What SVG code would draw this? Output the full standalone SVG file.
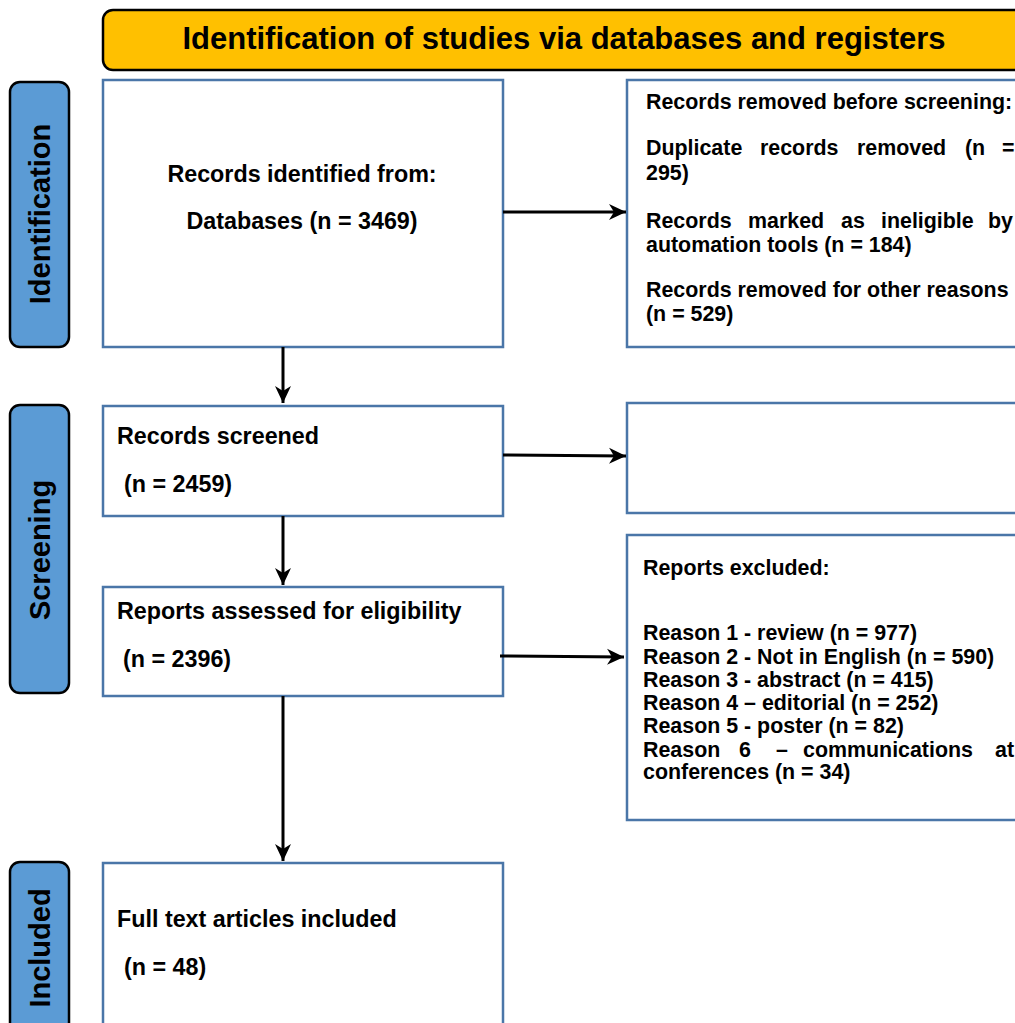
<svg xmlns="http://www.w3.org/2000/svg" width="1015" height="1023" viewBox="0 0 1015 1023">
<style>
  text { font-family: "Liberation Sans", Arial, sans-serif; font-weight: bold; fill: #000; }
  .hdr { fill: #FFC000; stroke: #000; stroke-width: 2.5; }
  .side { fill: #5B9BD5; stroke: #000; stroke-width: 2.5; }
  .box { fill: #fff; stroke: #4A76A8; stroke-width: 2.5; }
  .conn { stroke: #000; stroke-width: 3; fill: none; marker-end: url(#ah); }
  .t30 { font-size: 31px; }
  .t29 { font-size: 29px; }
  .t23 { font-size: 23.3px; }
  .t21 { font-size: 21.4px; }
</style>
<defs>
  <marker id="ah" markerUnits="userSpaceOnUse" markerWidth="20" markerHeight="20" refX="17" refY="8.5" orient="auto">
    <path d="M0,0.5 L17,8.5 L0,16.5 L5,8.5 z" fill="#000"/>
  </marker>
</defs>
<rect width="1015" height="1023" fill="#fff"/>

<g id="header">
  <rect class="hdr" x="103" y="10" width="960" height="60" rx="10"/>
  <text class="t30" x="564" y="49" text-anchor="middle">Identification of studies via databases and registers</text>
</g>

<g id="side-identification">
  <rect class="side" x="10" y="82" width="59" height="265" rx="10"/>
  <text class="t29" transform="translate(50,214) rotate(-90)" text-anchor="middle">Identification</text>
</g>
<g id="side-screening">
  <rect class="side" x="10" y="405" width="59" height="288" rx="10"/>
  <text class="t29" transform="translate(50,550) rotate(-90)" text-anchor="middle">Screening</text>
</g>
<g id="side-included">
  <rect class="side" x="10" y="862" width="59" height="200" rx="10"/>
  <text class="t29" transform="translate(50,948) rotate(-90)" text-anchor="middle">Included</text>
</g>

<g id="records-identified">
  <rect class="box" x="103" y="80" width="400" height="267"/>
  <text class="t23" x="302" y="182" text-anchor="middle">Records identified from:</text>
  <text class="t23" x="302" y="229" text-anchor="middle">Databases (n = 3469)</text>
</g>

<g id="records-removed">
  <rect class="box" x="627" y="80" width="450" height="267"/>
  <text class="t21" x="646" y="109">Records removed before screening:</text>
  <text class="t21" y="155"><tspan x="646">Duplicate</tspan><tspan x="760">records</tspan><tspan x="857">removed</tspan><tspan x="965">(n</tspan><tspan x="1002">=</tspan></text>
  <text class="t21" x="646" y="180">295)</text>
  <text class="t21" y="228"><tspan x="646">Records</tspan><tspan x="748">marked</tspan><tspan x="841">as</tspan><tspan x="881">ineligible</tspan><tspan x="988">by</tspan></text>
  <text class="t21" x="646" y="252">automation tools (n = 184)</text>
  <text class="t21" x="646" y="297">Records removed for other reasons</text>
  <text class="t21" x="646" y="321">(n = 529)</text>
</g>

<g id="records-screened">
  <rect class="box" x="103" y="406" width="400" height="110"/>
  <text class="t23" x="117" y="444">Records screened</text>
  <text class="t23" x="124" y="492">(n = 2459)</text>
</g>

<g id="records-excluded">
  <rect class="box" x="627" y="403" width="450" height="110"/>
</g>

<g id="reports-assessed">
  <rect class="box" x="103" y="587" width="400" height="109"/>
  <text class="t23" x="117" y="619">Reports assessed for eligibility</text>
  <text class="t23" x="123" y="667">(n = 2396)</text>
</g>

<g id="reports-excluded">
  <rect class="box" x="627" y="535" width="450" height="285"/>
  <text class="t21" x="643" y="575">Reports excluded:</text>
  <text class="t21" x="643" y="640">Reason 1 - review (n = 977)</text>
  <text class="t21" x="643" y="664">Reason 2 - Not in English (n = 590)</text>
  <text class="t21" x="643" y="687">Reason 3 - abstract (n = 415)</text>
  <text class="t21" x="643" y="710">Reason 4 – editorial (n = 252)</text>
  <text class="t21" x="643" y="733">Reason 5 - poster (n = 82)</text>
  <text class="t21" y="757"><tspan x="643">Reason</tspan><tspan x="739">6</tspan><tspan x="776">–</tspan><tspan x="803">communications</tspan><tspan x="995">at</tspan></text>
  <text class="t21" x="643" y="779">conferences (n = 34)</text>
</g>

<g id="included">
  <rect class="box" x="103" y="863" width="400" height="200"/>
  <text class="t23" x="117" y="927">Full text articles included</text>
  <text class="t23" x="124" y="975">(n = 48)</text>
</g>

<g id="connectors">
  <line class="conn" x1="503" y1="212" x2="626" y2="212"/>
  <line class="conn" x1="283" y1="347" x2="283" y2="403"/>
  <line class="conn" x1="503" y1="455" x2="626" y2="456"/>
  <line class="conn" x1="283" y1="516" x2="283" y2="585"/>
  <line class="conn" x1="500" y1="656" x2="624" y2="657"/>
  <line class="conn" x1="283" y1="696" x2="283" y2="861"/>
</g>
</svg>
